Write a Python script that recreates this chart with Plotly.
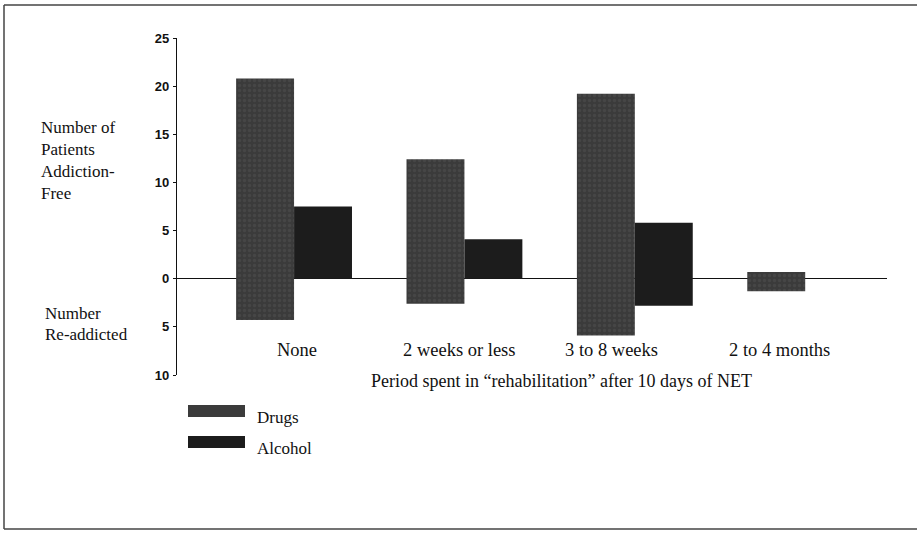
import plotly.graph_objects as go

# ---------------- data ----------------
categories = ["None", "2 weeks or less", "3 to 8 weeks", "2 to 4 months"]
drugs_free = [20.8, 12.4, 19.2, 0.7]
drugs_readdicted = [4.3, 2.6, 5.9, 1.3]
alcohol_free = [7.5, 4.1, 5.8, 0.0]
alcohol_readdicted = [0.0, 0.0, 2.8, 0.0]
y_tickvals = [-10, -5, 0, 5, 10, 15, 20, 25]
y_ticktext = ["10", "5", "0", "5", "10", "15", "20", "25"]
series_names = ["Drugs", "Alcohol"]
x_title = "Period spent in \u201crehabilitation\u201d after 10 days of NET"
upper_label = ["Number of", "Patients", "Addiction-", "Free"]
lower_label = ["Number", "Re-addicted"]

# ---------------- style ----------------
W, H = 917, 533
L, R, T, B = 177, 30, 38, 158   # plot area 177..887 x 38..375
PW, PH = W - L - R, H - T - B
drug_color = "#3b3b3b"
alc_color = "#1c1c1c"
serif = "Liberation Serif, DejaVu Serif, serif"
sans = "Liberation Sans, Arial, sans-serif"
txt_size = 17
cat_size = 18.5


def px(x):
    return (x - L) / PW


def py(y):
    return (H - B - y) / PH


fig = go.Figure()
fig.add_trace(go.Bar(
    x=categories,
    y=[f + r for f, r in zip(drugs_free, drugs_readdicted)],
    base=[-r for r in drugs_readdicted],
    name=series_names[0],
    marker=dict(color=drug_color, line=dict(width=0),
                pattern=dict(shape=".", fgcolor="#525252", size=5, solidity=0.35)),
))
fig.add_trace(go.Bar(
    x=categories,
    y=[f + r for f, r in zip(alcohol_free, alcohol_readdicted)],
    base=[-r for r in alcohol_readdicted],
    name=series_names[1],
    marker=dict(color=alc_color, line=dict(width=0)),
))

annotations = []
# category labels (inside plot, below zero line)
label_shift = [3, -5, -23, -26]
for c, s in zip(categories, label_shift):
    annotations.append(dict(x=c, y=-7.4, xref="x", yref="y", text=c, showarrow=False,
                            xshift=s, xanchor="center", yanchor="middle",
                            font=dict(family=serif, size=cat_size, color="#111")))
# x-axis title
annotations.append(dict(x=px(561), y=py(381), xref="paper", yref="paper", text=x_title,
                        showarrow=False, xanchor="center", yanchor="middle",
                        font=dict(family=serif, size=18, color="#111")))
# left labels
for i, t in enumerate(upper_label):
    annotations.append(dict(x=px(39), y=py(127 + i * 22), xref="paper", yref="paper", text=t,
                            showarrow=False, xanchor="left", yanchor="middle",
                            font=dict(family=serif, size=txt_size, color="#111")))
for i, t in enumerate(lower_label):
    annotations.append(dict(x=px(43), y=py(313 + i * 21), xref="paper", yref="paper", text=t,
                            showarrow=False, xanchor="left", yanchor="middle",
                            font=dict(family=serif, size=txt_size, color="#111")))

shapes = []
# legend swatches + labels
leg_y = [411, 442]
leg_cols = [drug_color, alc_color]
for yy, col, name in zip(leg_y, leg_cols, series_names):
    shapes.append(dict(type="rect", xref="paper", yref="paper",
                       x0=px(188), x1=px(245), y0=py(yy - 6), y1=py(yy + 6),
                       fillcolor=col, line=dict(width=0)))
    annotations.append(dict(x=px(255), y=py(yy + 6), xref="paper", yref="paper", text=name,
                            showarrow=False, xanchor="left", yanchor="middle",
                            font=dict(family=serif, size=txt_size, color="#111")))
# outer frame: top, left and bottom edges only
frame = dict(type="line", xref="paper", yref="paper", line=dict(color="#444", width=1.5))
shapes.append(dict(frame, x0=px(4), x1=px(917), y0=py(5), y1=py(5)))
shapes.append(dict(frame, x0=px(4), x1=px(4), y0=py(5), y1=py(529)))
shapes.append(dict(frame, x0=px(4), x1=px(917), y0=py(529), y1=py(529)))

fig.update_layout(
    width=W, height=H,
    margin=dict(l=L, r=R, t=T, b=B),
    paper_bgcolor="white", plot_bgcolor="white",
    barmode="group", bargap=0.32, bargroupgap=0,
    showlegend=False,
    annotations=annotations,
    shapes=shapes,
    xaxis=dict(type="category", range=[-0.687, 3.48], showticklabels=False, ticks="",
               showgrid=False, showline=False, zeroline=False),
    yaxis=dict(range=[-10, 25], tickvals=y_tickvals, ticktext=y_ticktext,
               showgrid=False, showline=True, linecolor="#111", linewidth=1.3,
               ticks="outside", ticklen=3, tickcolor="#111", tickwidth=1,
               ticklabelstandoff=1,
               zeroline=True, zerolinecolor="#111", zerolinewidth=1.3,
               tickfont=dict(family=sans, size=13, color="#111", weight="bold")),
)

fig.write_html("out.html", config={"displayModeBar": False},
               post_script="document.body.style.margin='0';")
